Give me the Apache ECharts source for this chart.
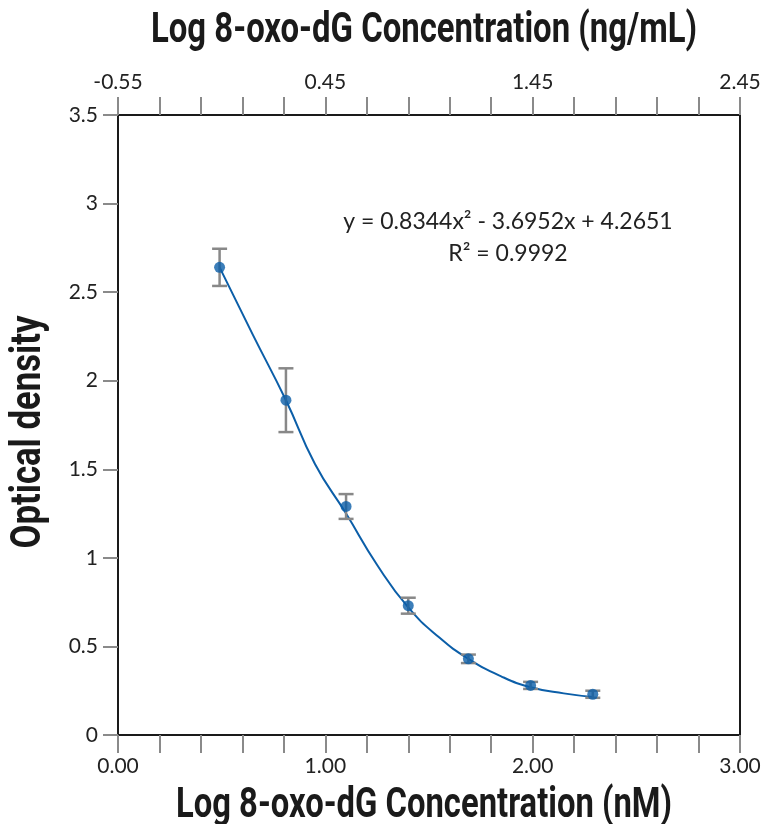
<!DOCTYPE html>
<html><head><meta charset="utf-8">
<script src="https://cdn.jsdelivr.net/npm/echarts@6/dist/echarts.min.js"></script>
<style>html,body{margin:0;padding:0;background:#fff}#c{width:767px;height:824px}</style>
</head><body><div id="c"></div>
<script>
// Data (log nM, optical density, error)
const xNM = [0.49, 0.81, 1.10, 1.40, 1.69, 1.99, 2.29];
const od = [2.64, 1.89, 1.29, 0.73, 0.43, 0.28, 0.23];
const odErr = [0.105, 0.18, 0.07, 0.045, 0.024, 0.02, 0.02];
// Trend curve
const curveX = [0.49, 0.65, 0.81, 0.95, 1.10, 1.25, 1.40, 1.55, 1.69, 1.85, 1.99, 2.15, 2.29];
const curveY = [2.64, 2.26, 1.89, 1.53, 1.25, 0.96, 0.72, 0.55, 0.43, 0.33, 0.27, 0.235, 0.215];
const bottomTickLabels = ['0.00', '1.00', '2.00', '3.00'];
const topTickLabels = ['-0.55', '0.45', '1.45', '2.45'];
const topTitle = 'Log 8-oxo-dG Concentration (ng/mL)';
const bottomTitle = 'Log 8-oxo-dG Concentration (nM)';
const yTitle = 'Optical density';
const eqText = 'y = 0.8344x² - 3.6952x + 4.2651';
const r2Text = 'R² = 0.9992';

const chart = echarts.init(document.getElementById('c'), null, {renderer: 'canvas'});
const titleFamily = 'Roboto, "DejaVu Sans", sans-serif';
const titleSize = 42;
const labelFont = 'Lato, "Open Sans", sans-serif';
const tickStyle = {color: '#8a8a8a', width: 2};

const ctx = document.createElement('canvas').getContext('2d');
ctx.font = 'bold ' + titleSize + 'px ' + titleFamily;
function fitScale(text, target) { return target / ctx.measureText(text).width; }

const pts = xNM.map((x, i) => [x, od[i]]);
const errs = xNM.map((x, i) => [x, od[i] - odErr[i], od[i] + odErr[i]]);
const curve = curveX.map((x, i) => [x, curveY[i]]);

function titleEl(text, x, y, target, rot) {
  const s = fitScale(text, target);
  return {type: 'text', x: x, y: y, rotation: rot || 0, scaleX: s, scaleY: 1,
    style: {text: text, x: 0, y: 0, align: 'center', verticalAlign: 'middle',
      fontFamily: titleFamily, fontWeight: 'bold', fontSize: titleSize, fill: '#1a1a1a'}};
}

chart.setOption({
  animation: false,
  backgroundColor: '#fff',
  grid: {left: 118, right: 27, top: 115, bottom: 89, containLabel: false, outerBoundsMode: 'none',
    show: true, borderColor: '#1a1a1a', borderWidth: 2},
  xAxis: [{
    type: 'value', position: 'bottom', min: 0, max: 3, interval: 1,
    axisLine: {show: true, lineStyle: {color: '#1a1a1a', width: 2}},
    axisTick: {show: true, length: 18, lineStyle: tickStyle},
    minorTick: {show: true, splitNumber: 5, length: 18, lineStyle: tickStyle},
    splitLine: {show: false},
    axisLabel: {margin: 21, fontSize: 21, color: '#222', fontFamily: labelFont,
      formatter: (v) => bottomTickLabels[Math.round(v)]}
  }, {
    type: 'value', position: 'top', min: 0, max: 3, interval: 1,
    axisLine: {show: true, lineStyle: {color: '#1a1a1a', width: 2}},
    axisTick: {show: true, length: 18, lineStyle: tickStyle},
    minorTick: {show: true, splitNumber: 5, length: 18, lineStyle: tickStyle},
    splitLine: {show: false},
    axisLabel: {margin: 22, fontSize: 21, color: '#222', fontFamily: labelFont,
      formatter: (v) => topTickLabels[Math.round(v)]}
  }],
  yAxis: {
    type: 'value', min: 0, max: 3.5, interval: 0.5,
    axisLine: {show: true, lineStyle: {color: '#1a1a1a', width: 2}},
    axisTick: {show: true, length: 15, lineStyle: tickStyle},
    splitLine: {show: false},
    axisLabel: {margin: 20, fontSize: 21, color: '#222', fontFamily: labelFont}
  },
  graphic: [
    titleEl(topTitle, 424, 31, 546, 0),
    titleEl(bottomTitle, 424, 806, 496, 0),
    titleEl(yTitle, 29, 432, 233, Math.PI / 2),
    {type: 'text', style: {text: eqText, x: 508, y: 222, align: 'center', verticalAlign: 'middle', fontSize: 23, fill: '#222', fontFamily: labelFont}},
    {type: 'text', style: {text: r2Text, x: 508, y: 254, align: 'center', verticalAlign: 'middle', fontSize: 23, fill: '#222', fontFamily: labelFont}}
  ],
  series: [{
    type: 'line', xAxisIndex: 0, data: curve, smooth: 0.5, showSymbol: false,
    lineStyle: {color: '#0b5ea8', width: 2}, z: 2
  }, {
    type: 'custom', xAxisIndex: 0, data: errs, z: 3,
    renderItem: function (params, api) {
      const x = api.value(0), lo = api.value(1), hi = api.value(2);
      const a = api.coord([x, hi]), b = api.coord([x, lo]);
      const w = 7.5;
      const st = {stroke: '#888', lineWidth: 2.5};
      return {type: 'group', children: [
        {type: 'line', shape: {x1: a[0], y1: a[1], x2: b[0], y2: b[1]}, style: st},
        {type: 'line', shape: {x1: a[0] - w, y1: a[1], x2: a[0] + w, y2: a[1]}, style: st},
        {type: 'line', shape: {x1: b[0] - w, y1: b[1], x2: b[0] + w, y2: b[1]}, style: st}
      ]};
    }
  }, {
    type: 'scatter', xAxisIndex: 0, data: pts, symbol: 'circle', symbolSize: 11, z: 4,
    itemStyle: {color: '#0b5ea8'}
  }]
});
</script></body></html>
